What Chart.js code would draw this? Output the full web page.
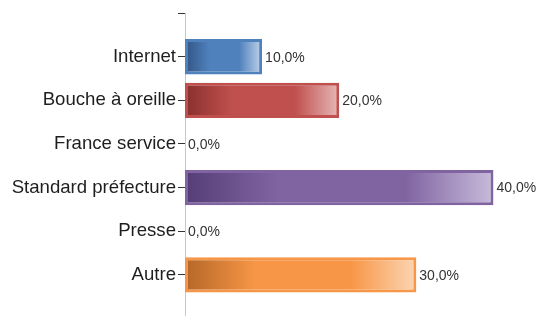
<!DOCTYPE html>
<html>
<head>
<meta charset="utf-8">
<script src="https://cdn.jsdelivr.net/npm/chart.js@4/dist/chart.umd.min.js"></script>
<style>
  html, body { margin: 0; padding: 0; background: #ffffff; overflow: hidden; }
  #wrap { width: 546px; height: 316px; overflow: hidden; }
</style>
</head>
<body>
<div id="wrap"><canvas id="c" width="546" height="321"></canvas></div>
<script>
const categories = ["Internet", "Bouche à oreille", "France service", "Standard préfecture", "Presse", "Autre"];
const values = [10, 20, 0, 40, 0, 30];
const barColors = ["#4f81bd", "#c0504d", "#8064a2", "#8064a2", "#8064a2", "#f79646"];
const darkColors = ["#365a8a", "#8c3230", "#563f78", "#563f78", "#563f78", "#b8692a"];
const lightColors = ["#b3c8e4", "#e3b1b0", "#c6b8d9", "#c6b8d9", "#c6b8d9", "#fcd2ae"];

// padded labels: an empty slot above and below (axis extends beyond the bars)
const labels = [""].concat(categories, [""]);
const data = [null].concat(values, [null]);
const colIdx = (i) => i - 1;

function fmt(v) { return v.toFixed(1).replace('.', ',') + '%'; }

const valueLabels = {
  id: 'valueLabels',
  afterDatasetsDraw(chart) {
    const ctx = chart.ctx;
    const meta = chart.getDatasetMeta(0);
    ctx.save();
    ctx.font = '14px "Liberation Sans", Arial, sans-serif';
    ctx.fillStyle = '#333333';
    ctx.textAlign = 'left';
    ctx.textBaseline = 'middle';
    meta.data.forEach((el, i) => {
      const v = data[i];
      if (v === null || v === undefined) return;
      ctx.fillText(fmt(v), el.x + 3, el.y + 1);
    });
    ctx.restore();
  }
};

new Chart(document.getElementById('c'), {
  type: 'bar',
  data: {
    labels: labels,
    datasets: [{
      data: data,
      borderWidth: 3,
      borderSkipped: false,
      borderColor: (c) => barColors[colIdx(c.dataIndex)] || '#000',
      backgroundColor: (c) => {
        const k = colIdx(c.dataIndex);
        const chart = c.chart;
        const base = barColors[k] || '#000';
        if (!chart.chartArea || !chart.scales.x) return base;
        const v = c.raw;
        if (!v) return base;
        const x0 = chart.scales.x.getPixelForValue(0);
        const x1 = chart.scales.x.getPixelForValue(v);
        const g = chart.ctx.createLinearGradient(x0 + 3, 0, x1 - 3, 0);
        g.addColorStop(0, darkColors[k]);
        g.addColorStop(0.3, base);
        g.addColorStop(0.72, base);
        g.addColorStop(1, lightColors[k]);
        return g;
      },
      categoryPercentage: 1,
      barPercentage: 0.81
    }]
  },
  options: {
    indexAxis: 'y',
    responsive: false,
    animation: false,
    layout: { padding: { top: 9, right: 14, bottom: 0, left: 0 } },
    plugins: { legend: { display: false }, tooltip: { enabled: false } },
    scales: {
      x: { display: false, min: 0, max: 45 },
      y: {
        offset: false,
        afterFit: (s) => { s.width = 185; },
        border: { display: true, color: '#c8c8c8', width: 1 },
        grid: { offset: false, drawOnChartArea: false, drawTicks: true, tickLength: 7, tickColor: '#333333', tickWidth: 1 },
        ticks: {
          padding: 2,
          color: '#1e1e1e',
          font: (c) => ({ family: '"Liberation Sans", Arial, sans-serif', size: (c.index === 0 ? 1 : 18.6) }),
          autoSkip: false,
          callback: function (val, idx) {
            if (idx === labels.length - 1) return null;
            return labels[idx];
          }
        }
      }
    }
  },
  plugins: [valueLabels]
});
</script>
</body>
</html>
